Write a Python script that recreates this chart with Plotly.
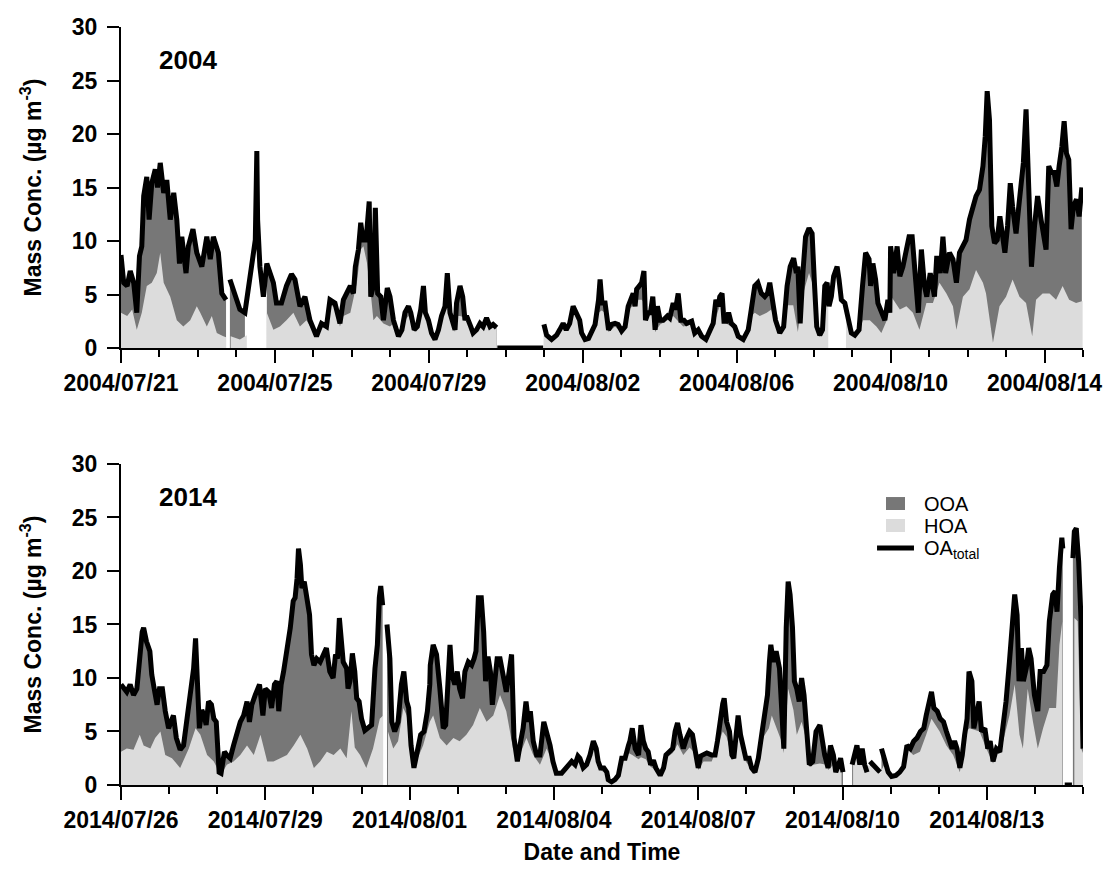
import pandas as pd
import plotly.graph_objects as go
from plotly.subplots import make_subplots

# ---------------- data (time in days from panel start) ----------------
start_2004 = "2004-07-21"
start_2014 = "2014-07-26"

t04_total = [0.00, 0.07, 0.16, 0.24, 0.33, 0.41, 0.48, 0.54, 0.59, 0.67, 0.73, 0.80, 0.89, 0.95, 1.02, 1.11, 1.19, 1.28, 1.37, 1.45,
             1.52, 1.58, 1.69, 1.75, 1.87, 1.97, 2.10, 2.23, 2.32, 2.40, 2.53, 2.62, 2.73, 2.78, 2.83, 2.96, 3.09, 3.22, 3.31, 3.44,
             3.49, 3.53, 3.55, 3.61, 3.70, 3.79, 3.87, 3.96, 4.04, 4.17, 4.30, 4.43, 4.52, 4.65, 4.78, 4.91, 5.08, 5.21, 5.34, 5.43,
             5.56, 5.69, 5.78, 5.87, 5.96, 6.04, 6.09, 6.17, 6.23, 6.29, 6.37, 6.45, 6.49, 6.56, 6.61, 6.67, 6.75, 6.82, 6.92, 6.99,
             7.08, 7.21, 7.30, 7.38, 7.47, 7.53, 7.62, 7.70, 7.79, 7.86, 7.91, 7.99, 8.07, 8.16, 8.25, 8.33, 8.42, 8.48, 8.55, 8.68,
             8.72, 8.81, 8.88, 8.94, 8.98, 9.09, 9.15, 9.24, 9.33, 9.41, 9.50, 9.59, 9.67, 9.76, 9.77, 9.78, 10.97, 10.98, 10.99, 11.06,
             11.19, 11.32, 11.40, 11.49, 11.57, 11.66, 11.75, 11.83, 11.92, 11.97, 12.06, 12.15, 12.23, 12.32, 12.41, 12.45, 12.50, 12.58, 12.67, 12.75,
             12.84, 12.92, 13.01, 13.10, 13.18, 13.27, 13.31, 13.36, 13.40, 13.47, 13.53, 13.59, 13.63, 13.70, 13.76, 13.82, 13.88, 13.94, 14.01, 14.09,
             14.20, 14.26, 14.35, 14.41, 14.48, 14.55, 14.63, 14.70, 14.83, 14.91, 15.00, 15.09, 15.20, 15.30, 15.39, 15.46, 15.52, 15.56, 15.62, 15.67,
             15.73, 15.79, 15.86, 15.95, 16.04, 16.17, 16.30, 16.38, 16.47, 16.55, 16.64, 16.73, 16.80, 16.86, 16.93, 17.01, 17.12, 17.22, 17.31, 17.39,
             17.48, 17.55, 17.59, 17.65, 17.72, 17.79, 17.88, 17.96, 18.02, 18.08, 18.16, 18.23, 18.29, 18.35, 18.40, 18.46, 18.52, 18.61, 18.66, 18.72,
             18.81, 18.90, 18.98, 19.07, 19.18, 19.27, 19.35, 19.44, 19.48, 19.54, 19.61, 19.67, 19.76, 19.85, 19.93, 19.98, 20.00, 20.08, 20.17, 20.24,
             20.32, 20.39, 20.48, 20.56, 20.65, 20.72, 20.80, 20.88, 20.94, 21.03, 21.14, 21.20, 21.29, 21.36, 21.43, 21.53, 21.62, 21.71, 21.79, 21.88,
             21.96, 22.05, 22.14, 22.22, 22.31, 22.40, 22.46, 22.51, 22.57, 22.63, 22.70, 22.77, 22.84, 22.90, 22.97, 23.04, 23.11, 23.17, 23.26, 23.33,
             23.39, 23.45, 23.52, 23.59, 23.66, 23.74, 23.82, 23.91, 23.97, 24.04, 24.11, 24.18, 24.25, 24.32, 24.38, 24.45, 24.51, 24.57, 24.63, 24.69,
             24.75, 24.83, 24.90, 24.97]
oa04_total = [8.7, 6.1, 5.8, 7.2, 6.1, 3.3, 8.6, 9.5, 14.2, 16.0, 12.0, 15.4, 16.7, 15.0, 17.3, 14.5, 15.7, 12.0, 14.5, 12.0,
              7.9, 10.4, 7.0, 9.5, 11.1, 8.9, 7.6, 10.4, 8.3, 10.4, 8.9, 5.1, 4.5, None, 6.4, 5.1, 3.6, 3.3, 5.5, 8.3,
              10.1, 18.4, 12.0, 7.6, 4.8, 7.9, 7.0, 6.1, 4.2, 4.2, 5.8, 6.9, 6.4, 3.9, 4.8, 2.6, 1.1, 2.3, 2.0, 4.5,
              4.2, 2.3, 4.5, 5.1, 5.8, 5.1, 7.6, 9.2, 11.7, 10.1, 10.1, 13.7, 4.8, 5.8, 13.1, 5.1, 4.8, 2.6, 5.6, 4.8,
              2.6, 1.1, 1.7, 3.3, 3.9, 3.3, 1.7, 2.0, 3.6, 5.8, 3.3, 2.6, 1.4, 0.8, 1.7, 3.0, 3.9, 7.0, 3.3, 1.7,
              4.2, 5.8, 4.8, 2.6, 3.0, 2.0, 1.4, 1.7, 2.3, 2.0, 2.8, 2.0, 2.2, 1.9, None, 0.0, 0.0, None, 2.2, 1.2,
              0.8, 1.2, 1.7, 2.3, 1.7, 2.3, 3.9, 3.3, 2.6, 1.4, 0.8, 0.9, 1.6, 2.2, 4.5, 6.4, 4.2, 4.2, 1.7, 2.2,
              2.3, 2.2, 1.6, 2.0, 3.9, 4.8, 5.1, 3.9, 5.5, 5.8, 6.1, 7.2, 2.6, 3.3, 3.3, 4.8, 1.7, 3.9, 2.6, 2.6,
              3.0, 2.8, 4.2, 3.6, 5.1, 2.6, 2.6, 2.3, 2.5, 1.4, 1.7, 1.1, 0.8, 1.6, 2.3, 4.5, 3.9, 4.8, 5.1, 2.5,
              2.5, 3.3, 2.3, 2.0, 1.1, 0.8, 1.7, 3.6, 5.8, 6.1, 5.1, 4.8, 5.1, 6.1, 4.2, 2.6, 1.4, 2.0, 5.8, 7.6,
              8.4, 7.0, 7.6, 2.3, 7.0, 10.4, 11.2, 10.7, 6.1, 2.0, 1.2, 1.7, 5.8, 6.1, 3.9, 4.8, 6.7, 7.6, 6.4, 4.5,
              4.2, 2.6, 1.4, 1.2, 1.7, 5.8, 8.9, 8.3, 5.8, 7.9, 6.4, 4.2, 3.3, 2.6, 4.5, 3.3, 9.5, 7.0, 9.5, 6.7,
              7.6, 8.9, 10.4, 10.4, 6.4, 3.3, 9.2, 5.8, 4.8, 7.0, 4.8, 8.6, 7.0, 10.4, 7.0, 8.9, 8.3, 6.1, 8.9, 9.5,
              10.1, 12.0, 13.2, 14.2, 14.8, 17.0, 19.8, 24.0, 21.3, 11.4, 9.8, 10.1, 12.3, 10.7, 8.9, 11.4, 15.4, 13.2, 10.7, 13.2,
              15.1, 17.3, 22.3, 14.5, 7.6, 11.4, 14.2, 12.0, 10.4, 9.2, 17.0, 16.4, 16.4, 15.1, 17.0, 18.8, 21.2, 18.2, 17.6, 11.1,
              13.2, 13.9, 12.3, 15.0]

t04_hoa = [0.00, 0.16, 0.29, 0.41, 0.54, 0.67, 0.80, 0.93, 1.02, 1.11, 1.28, 1.45, 1.62, 1.80, 1.97, 2.06, 2.23, 2.36, 2.49, 2.66,
           2.73, 2.85, 3.09, 3.27, 3.70, 3.79, 3.96, 4.13, 4.30, 4.48, 4.65, 4.82, 5.00, 5.08, 5.21, 5.34, 5.43, 5.56, 5.69, 5.78,
           5.96, 6.13, 6.23, 6.30, 6.39, 6.48, 6.56, 6.65, 6.82, 6.99, 7.08, 7.21, 7.30, 7.38, 7.47, 7.62, 7.79, 7.86, 7.91, 8.07,
           8.16, 8.33, 8.48, 8.55, 8.68, 8.72, 8.81, 8.98, 9.09, 9.15, 9.33, 9.50, 9.67, 9.76, 10.99, 11.19, 11.40, 11.49, 11.66, 11.75,
           11.83, 11.92, 11.97, 12.06, 12.23, 12.32, 12.41, 12.49, 12.58, 12.67, 12.84, 13.01, 13.18, 13.31, 13.40, 13.53, 13.62, 13.70, 13.82, 13.88,
           14.01, 14.20, 14.35, 14.48, 14.61, 14.83, 15.00, 15.20, 15.39, 15.52, 15.62, 15.73, 15.86, 16.04, 16.17, 16.38, 16.47, 16.60, 16.78, 16.90,
           17.01, 17.12, 17.22, 17.33, 17.47, 17.59, 17.72, 17.88, 17.97, 18.08, 18.16, 18.29, 18.38, 18.84, 18.90, 19.03, 19.18, 19.28, 19.46, 19.63,
           19.76, 19.89, 20.02, 20.24, 20.41, 20.58, 20.75, 20.93, 21.10, 21.27, 21.45, 21.62, 21.71, 21.88, 22.05, 22.22, 22.40, 22.48, 22.66, 22.83,
           23.00, 23.17, 23.35, 23.52, 23.68, 23.78, 23.95, 24.13, 24.30, 24.47, 24.64, 24.82, 24.99]
hoa04 = [3.3, 3.0, 3.6, 1.7, 3.3, 5.8, 6.1, 7.0, 8.9, 6.1, 4.8, 2.6, 2.0, 2.6, 3.9, 3.3, 2.0, 3.0, 1.4, 1.1,
         1.0, 1.1, 0.8, 1.2, 2.5, 3.3, 1.7, 2.0, 2.6, 3.3, 2.0, 2.6, 1.5, 1.0, 2.0, 1.8, 4.0, 3.8, 2.0, 3.0,
         3.3, 6.1, 9.2, 9.5, 8.0, 5.5, 2.6, 3.0, 2.3, 2.0, 2.3, 1.0, 1.5, 2.6, 3.0, 1.5, 3.0, 4.5, 3.0, 1.2,
         0.7, 2.6, 5.5, 3.0, 1.5, 3.0, 3.0, 2.8, 2.0, 1.3, 2.0, 2.5, 2.0, 1.8, 2.0, 0.7, 1.5, 2.0, 2.0, 3.5,
         3.0, 2.0, 1.2, 0.7, 1.4, 2.0, 3.3, 3.5, 3.3, 1.5, 2.0, 1.4, 3.5, 4.0, 4.5, 4.5, 4.2, 2.8, 3.8, 1.5,
         2.2, 2.6, 3.0, 2.5, 2.0, 2.2, 1.5, 0.7, 2.0, 3.5, 4.5, 2.3, 2.0, 1.0, 0.7, 3.0, 3.3, 3.0, 3.3, 3.6,
         2.4, 1.3, 1.8, 4.0, 4.0, 1.5, 5.0, 7.0, 6.0, 1.8, 1.0, 4.5, 4.0, 3.5, 2.4, 1.2, 1.5, 2.6, 2.6, 2.0,
         1.4, 2.5, 4.8, 3.6, 3.9, 3.3, 1.7, 4.2, 4.2, 6.1, 5.1, 3.9, 1.7, 4.8, 5.5, 7.3, 6.1, 5.1, 0.5, 3.9,
         4.8, 6.4, 4.8, 4.2, 1.1, 4.5, 5.1, 5.1, 4.5, 5.8, 4.5, 4.2, 4.4]
gaps04 = [(2.75, 2.80), (3.28, 3.72), (9.765, 10.985), (18.39, 18.82)]

t14_total = [0.00, 0.06, 0.12, 0.19, 0.26, 0.33, 0.39, 0.44, 0.47, 0.53, 0.60, 0.64, 0.69, 0.75, 0.80, 0.86, 0.92, 0.99, 1.04, 1.09,
             1.15, 1.23, 1.30, 1.37, 1.44, 1.51, 1.55, 1.59, 1.63, 1.68, 1.73, 1.77, 1.82, 1.88, 1.93, 1.98, 2.04, 2.08, 2.15, 2.20,
             2.27, 2.34, 2.41, 2.48, 2.55, 2.62, 2.67, 2.72, 2.79, 2.88, 2.95, 3.00, 3.07, 3.13, 3.19, 3.24, 3.28, 3.33, 3.38, 3.45,
             3.52, 3.58, 3.62, 3.66, 3.69, 3.73, 3.76, 3.81, 3.87, 3.92, 3.96, 4.01, 4.07, 4.14, 4.21, 4.27, 4.34, 4.41, 4.46, 4.50,
             4.54, 4.62, 4.69, 4.72, 4.76, 4.81, 4.86, 4.90, 4.95, 5.00, 5.07, 5.14, 5.21, 5.28, 5.33, 5.37, 5.40, 5.44, 5.47, 5.53,
             5.59, 5.63, 5.69, 5.76, 5.83, 5.88, 5.94, 5.98, 6.03, 6.09, 6.16, 6.23, 6.30, 6.37, 6.42, 6.43, 6.49, 6.56, 6.63, 6.70,
             6.75, 6.80, 6.84, 6.88, 6.94, 6.99, 7.04, 7.10, 7.15, 7.22, 7.29, 7.34, 7.38, 7.43, 7.49, 7.54, 7.58, 7.63, 7.68, 7.72,
             7.77, 7.82, 7.88, 7.95, 8.01, 8.07, 8.12, 8.17, 8.24, 8.31, 8.36, 8.42, 8.47, 8.51, 8.57, 8.64, 8.71, 8.79, 8.85, 8.92,
             8.98, 9.05, 9.16, 9.26, 9.37, 9.44, 9.50, 9.54, 9.61, 9.68, 9.75, 9.82, 9.88, 9.92, 9.97, 10.04, 10.10, 10.13, 10.20, 10.27,
             10.34, 10.41, 10.48, 10.55, 10.58, 10.63, 10.69, 10.76, 10.81, 10.86, 10.91, 10.96, 11.01, 11.07, 11.12, 11.21, 11.28, 11.33, 11.40, 11.47,
             11.52, 11.57, 11.62, 11.69, 11.76, 11.82, 11.88, 11.93, 12.00, 12.05, 12.11, 12.18, 12.28, 12.35, 12.40, 12.45, 12.51, 12.54, 12.59, 12.65,
             12.70, 12.74, 12.80, 12.83, 12.88, 12.94, 12.99, 13.06, 13.11, 13.18, 13.25, 13.32, 13.39, 13.44, 13.48, 13.51, 13.56, 13.62, 13.69, 13.74,
             13.78, 13.83, 13.87, 13.91, 13.96, 14.00, 14.05, 14.10, 14.15, 14.20, 14.26, 14.31, 14.38, 14.45, 14.53, 14.58, 14.63, 14.70, 14.75, 14.81,
             14.86, 14.92, 14.96, 15.01, 15.10, 15.20, 15.26, 15.30, 15.36, 15.41, 15.46, 15.51, 15.53, 15.57, 15.64, 15.71, 15.78, 15.80, 15.81, 15.88,
             15.95, 16.02, 16.11, 16.19, 16.27, 16.34, 16.41, 16.48, 16.55, 16.62, 16.69, 16.74, 16.80, 16.85, 16.90, 16.97, 17.03, 17.10, 17.16, 17.23,
             17.28, 17.33, 17.38, 17.44, 17.49, 17.54, 17.59, 17.63, 17.69, 17.73, 17.78, 17.84, 17.89, 17.96, 18.02, 18.07, 18.13, 18.20, 18.27, 18.34,
             18.40, 18.47, 18.53, 18.58, 18.63, 18.67, 18.72, 18.76, 18.82, 18.87, 18.92, 18.99, 19.06, 19.11, 19.18, 19.25, 19.30, 19.37, 19.42, 19.46,
             19.51, 19.56, 19.58, 19.60, 19.62, 19.77, 19.78, 19.79, 19.82, 19.86, 19.91, 19.96, 20.00]
oa14_total = [9.4, 9.0, 8.7, 9.4, 8.4, 9.0, 12.2, 14.3, 14.7, 13.4, 12.5, 10.3, 9.0, 7.5, 9.0, 9.0, 6.9, 5.3, 5.9, 6.5,
              4.4, 3.3, 3.7, 6.2, 8.4, 10.9, 13.7, 9.7, 5.3, 7.0, 6.5, 5.6, 7.8, 7.5, 6.2, 5.9, 1.2, 1.1, 3.1, 2.8,
              2.5, 3.7, 4.7, 5.9, 6.5, 7.8, 5.9, 7.5, 8.4, 9.4, 6.5, 9.0, 8.7, 7.2, 9.4, 9.7, 6.9, 9.4, 10.6, 12.5,
              14.7, 17.2, 17.5, 19.3, 22.1, 20.6, 18.4, 19.0, 17.2, 15.9, 12.2, 11.2, 11.8, 11.5, 12.2, 12.8, 10.6, 10.0, 12.2, 11.8,
              15.6, 11.5, 10.9, 9.0, 9.7, 12.3, 10.6, 8.1, 7.8, 6.2, 5.1, 5.3, 5.6, 10.9, 13.1, 17.5, 18.6, 16.8, None, 15.0,
              11.8, 5.9, 5.0, 5.9, 9.4, 10.6, 7.8, 7.2, 3.7, 1.6, 3.4, 4.7, 5.0, 6.9, 9.4, 11.2, 13.1, 12.2, 9.0, 5.3,
              5.6, 10.9, 13.1, 10.3, 9.4, 10.6, 9.0, 8.1, 10.6, 11.5, 11.2, 11.8, 12.5, 17.5, 17.5, 14.3, 9.7, 12.0, 10.6, 7.5,
              10.3, 11.8, 11.8, 10.3, 8.7, 10.6, 12.2, 4.4, 2.2, 4.1, 5.3, 7.8, 5.9, 6.9, 4.1, 2.8, 2.8, 5.9, 5.0, 3.7,
              2.2, 1.1, 1.1, 1.6, 2.2, 1.9, 2.7, 2.5, 1.6, 1.9, 2.8, 4.1, 3.4, 2.2, 1.6, 1.6, 1.2, 0.5, 0.3, 0.5,
              0.9, 2.5, 2.5, 3.7, 4.1, 5.3, 3.4, 2.8, 5.6, 4.1, 3.4, 3.1, 1.9, 2.3, 1.6, 0.9, 1.6, 2.8, 3.1, 3.4,
              5.0, 5.8, 4.7, 3.4, 4.4, 5.0, 4.7, 3.4, 1.6, 2.7, 2.8, 3.0, 2.8, 2.8, 4.1, 5.9, 7.6, 8.1, 5.9, 5.0,
              2.8, 2.5, 5.9, 6.5, 4.7, 3.4, 2.5, 2.5, 1.6, 1.2, 2.5, 4.7, 6.9, 8.4, 11.5, 13.1, 11.5, 12.5, 10.9, 6.5,
              3.4, 14.7, 19.0, 17.8, 14.7, 9.7, 9.0, 7.8, 10.0, 8.4, 5.3, 1.9, 2.2, 5.0, 5.6, 4.1, 2.8, 1.6, 3.7, 2.8,
              1.2, 1.9, 2.5, 1.2, None, 1.9, 3.1, 3.7, 1.9, 3.4, 1.9, 1.2, None, 2.2, 1.9, 1.6, 1.2, None, 3.4, 2.2,
              1.2, 0.8, 0.9, 1.2, 1.7, 3.7, 3.4, 4.1, 4.4, 5.0, 5.3, 6.5, 7.8, 8.7, 7.2, 6.9, 6.2, 5.9, 5.0, 4.1,
              3.4, 4.1, 3.4, 1.6, 2.8, 4.7, 6.2, 10.6, 9.7, 5.3, 6.5, 7.8, 5.0, 5.3, 3.4, 4.1, 2.2, 3.4, 3.1, 5.6,
              7.8, 11.5, 14.7, 17.8, 15.9, 9.7, 12.8, 9.7, 10.9, 12.8, 11.8, 8.4, 6.9, 10.6, 10.6, 11.2, 15.3, 17.8, 18.1, 16.2,
              20.3, 23.1, 22.1, None, 0.0, 0.0, None, 21.2, 23.7, 24.0, 20.9, 15.3, 3.4]

t14_hoa = [0.00, 0.12, 0.26, 0.39, 0.47, 0.61, 0.71, 0.82, 0.92, 1.06, 1.23, 1.41, 1.55, 1.65, 1.79, 1.93, 2.07, 2.20, 2.34, 2.48,
           2.62, 2.76, 2.90, 3.04, 3.17, 3.31, 3.45, 3.59, 3.73, 3.87, 4.01, 4.14, 4.28, 4.42, 4.56, 4.69, 4.79, 4.86, 4.97, 5.10,
           5.24, 5.38, 5.45, 5.55, 5.66, 5.76, 5.87, 5.94, 6.04, 6.14, 6.28, 6.42, 6.49, 6.63, 6.77, 6.91, 7.04, 7.18, 7.32, 7.46,
           7.60, 7.74, 7.88, 8.01, 8.15, 8.29, 8.43, 8.57, 8.71, 8.85, 8.98, 9.05, 9.16, 9.26, 9.37, 9.44, 9.50, 9.61, 9.68, 9.75,
           9.82, 9.88, 9.97, 10.10, 10.20, 10.34, 10.41, 10.55, 10.63, 10.76, 10.81, 10.91, 11.01, 11.12, 11.21, 11.33, 11.47, 11.57, 11.69, 11.82,
           11.93, 12.00, 12.11, 12.28, 12.40, 12.51, 12.59, 12.70, 12.80, 12.88, 12.99, 13.11, 13.18, 13.25, 13.36, 13.47, 13.53, 13.63, 13.74, 13.78,
           13.87, 13.98, 14.05, 14.15, 14.26, 14.31, 14.39, 14.53, 14.67, 14.70, 14.81, 14.91, 14.98, 15.22, 15.30, 15.36, 15.41, 15.46, 15.64, 15.78,
           15.88, 16.02, 16.19, 16.34, 16.47, 16.61, 16.74, 16.85, 17.02, 17.16, 17.30, 17.44, 17.57, 17.64, 17.85, 17.99, 18.13, 18.20, 18.34, 18.47,
           18.58, 18.68, 18.75, 18.85, 18.96, 19.06, 19.17, 19.30, 19.44, 19.51, 19.57, 19.82, 19.89, 19.96, 20.00]
hoa14 = [3.1, 3.4, 3.3, 4.7, 3.7, 3.4, 4.4, 5.0, 2.8, 2.5, 1.6, 3.4, 5.3, 4.7, 2.8, 2.2, 0.9, 1.9, 2.2, 2.8,
         3.7, 2.8, 4.7, 2.2, 2.2, 2.5, 2.8, 3.7, 4.7, 3.4, 1.6, 2.2, 3.1, 2.8, 3.4, 2.5, 6.9, 3.5, 2.8, 1.6,
         3.4, 6.2, 6.5, 5.0, 3.4, 4.1, 7.2, 6.5, 2.8, 2.2, 3.7, 5.9, 6.5, 4.4, 3.7, 4.4, 4.1, 4.7, 5.6, 7.2,
         5.9, 6.5, 8.4, 6.9, 3.4, 2.8, 4.4, 2.8, 1.9, 3.4, 2.0, 1.0, 1.0, 1.4, 2.0, 1.7, 2.4, 1.4, 1.7, 2.5,
         3.6, 3.0, 1.4, 1.0, 0.2, 0.8, 2.2, 3.0, 2.8, 2.4, 2.6, 2.4, 1.7, 1.4, 0.8, 2.5, 3.0, 3.8, 2.8, 3.5,
         3.0, 1.4, 2.2, 2.2, 3.6, 5.0, 4.5, 2.5, 5.0, 4.0, 2.2, 1.4, 1.0, 2.2, 4.5, 5.3, 6.5, 5.3, 4.0, 3.0,
         9.0, 7.0, 4.7, 5.9, 4.0, 1.7, 1.9, 2.0, 1.9, 1.4, 1.9, 1.7, 2.0, 1.8, 3.5, 1.8, 3.2, 1.8, 1.8, 1.1,
         2.0, 0.7, 1.1, 3.4, 2.8, 3.1, 4.7, 6.2, 5.0, 3.7, 2.8, 1.2, 5.0, 5.3, 5.0, 3.4, 2.0, 2.8, 4.1, 6.5,
         9.4, 4.7, 3.4, 9.0, 5.9, 3.4, 5.3, 7.2, 7.2, 13.1, 15.3, 15.6, 15.3, 3.4, 3.0]
gaps14 = [(5.46, 5.50), (15.05, 15.19), (19.59, 19.785)]

# ---------------- helpers ----------------
def to_time(start, days):
    base = pd.Timestamp(start)
    return [base + pd.Timedelta(days=d) for d in days]


def segments(t, v, gaps):
    """Split a series into contiguous runs, breaking at missing values and area gaps."""
    runs, cur, prev = [], [], None
    for ti, vi in zip(t, v):
        inside = any(a <= ti <= b for a, b in gaps)
        crossed = prev is not None and any(prev < a and b < ti for a, b in gaps)
        if vi is None or inside or crossed:
            if len(cur) > 1:
                runs.append(cur)
            cur = []
            if vi is None or inside:
                continue
        cur.append((ti, vi))
        prev = ti
    if len(cur) > 1:
        runs.append(cur)
    return runs


OOA_COLOR = "#777777"
HOA_COLOR = "#dcdcdc"
FONT = "Liberation Sans, Arial, sans-serif"

fig = make_subplots(rows=2, cols=1, vertical_spacing=0.153)

panels = [
    (1, start_2004, t04_total, oa04_total, t04_hoa, hoa04, gaps04),
    (2, start_2014, t14_total, oa14_total, t14_hoa, hoa14, gaps14),
]
for row, start, tt, vt, th, vh, gaps in panels:
    for run in segments(tt, vt, gaps):
        fig.add_trace(go.Scatter(x=to_time(start, [p[0] for p in run]), y=[p[1] for p in run],
                                 mode="none", fill="tozeroy", fillcolor=OOA_COLOR,
                                 showlegend=False, hoverinfo="skip"), row=row, col=1)
    for run in segments(th, vh, gaps):
        fig.add_trace(go.Scatter(x=to_time(start, [p[0] for p in run]), y=[p[1] for p in run],
                                 mode="none", fill="tozeroy", fillcolor=HOA_COLOR,
                                 showlegend=False, hoverinfo="skip"), row=row, col=1)
    fig.add_trace(go.Scatter(x=to_time(start, tt), y=vt, mode="lines", connectgaps=False,
                             line=dict(color="black", width=5), showlegend=False), row=row, col=1)

tickfont = dict(family=FONT, size=23, color="black", weight="bold")
axis_common = dict(showline=True, linecolor="black", linewidth=2, showgrid=False, zeroline=False,
                   ticks="outside", tickcolor="black", tickwidth=2, tickfont=tickfont, automargin=False)

fig.update_xaxes(**axis_common, ticklen=13, tickformat="%Y/%m/%d",
                 minor=dict(ticks="outside", ticklen=7, tickwidth=2, tickcolor="black", dtick=86400000))
fig.update_xaxes(row=1, col=1, range=["2004-07-21", "2004-08-15"], tick0="2004-07-21", dtick=4 * 86400000)
fig.update_xaxes(row=2, col=1, range=["2014-07-26", "2014-08-15"], tick0="2014-07-26", dtick=3 * 86400000,
                 title=dict(text="Date and Time", font=dict(family=FONT, size=23, color="black", weight="bold"),
                            standoff=12))
fig.update_yaxes(**axis_common, ticklen=12, range=[0, 30], dtick=5, ticklabelstandoff=5,
                 title=dict(text="Mass Conc. (µg m<sup>-3</sup>)",
                            font=dict(family=FONT, size=23, color="black", weight="bold"), standoff=24))
fig.update_yaxes(row=1, col=1, domain=[0.5765, 1.0])
fig.update_yaxes(row=2, col=1, domain=[0.0, 0.4235])

fig.add_annotation(text="2004", xref="x domain", yref="y domain", x=0.037, y=0.897, xanchor="left",
                   yanchor="middle", showarrow=False, font=dict(family=FONT, size=26, color="black", weight="bold"))
fig.add_annotation(text="2014", xref="x2 domain", yref="y2 domain", x=0.037, y=0.897, xanchor="left",
                   yanchor="middle", showarrow=False, font=dict(family=FONT, size=26, color="black", weight="bold"))

# legend (drawn in paper coordinates)
legend_names = ["OOA", "HOA", "OA<sub>total</sub>"]
legend_colors = [OOA_COLOR, HOA_COLOR, "black"]
for name, color, (y0, y1), ty in zip(legend_names, legend_colors,
                                      [(0.3628, 0.3799), (0.3338, 0.3509), (0.3127, 0.3127)],
                                      [0.3707, 0.3417, 0.3110]):
    if y0 == y1:
        fig.add_shape(type="line", xref="paper", yref="paper", x0=0.7859, x1=0.8243, y0=y0, y1=y1,
                      line=dict(color=color, width=5))
    else:
        fig.add_shape(type="rect", xref="paper", yref="paper", x0=0.7952, x1=0.8150, y0=y0, y1=y1,
                      fillcolor=color, line=dict(width=0))
    fig.add_annotation(text=name, xref="paper", yref="paper", x=0.8327, y=ty, xanchor="left",
                       yanchor="middle", showarrow=False, font=dict(family=FONT, size=20, color="black"))

fig.update_layout(
    width=1110, height=871,
    margin=dict(l=121, r=27, t=27, b=86),
    plot_bgcolor="white", paper_bgcolor="white",
    font=dict(family=FONT, color="black"),
    showlegend=False,
)

fig.write_html("out.html", config={"displayModeBar": False},
               post_script="document.body.style.margin='0px';document.body.style.overflow='hidden';")
